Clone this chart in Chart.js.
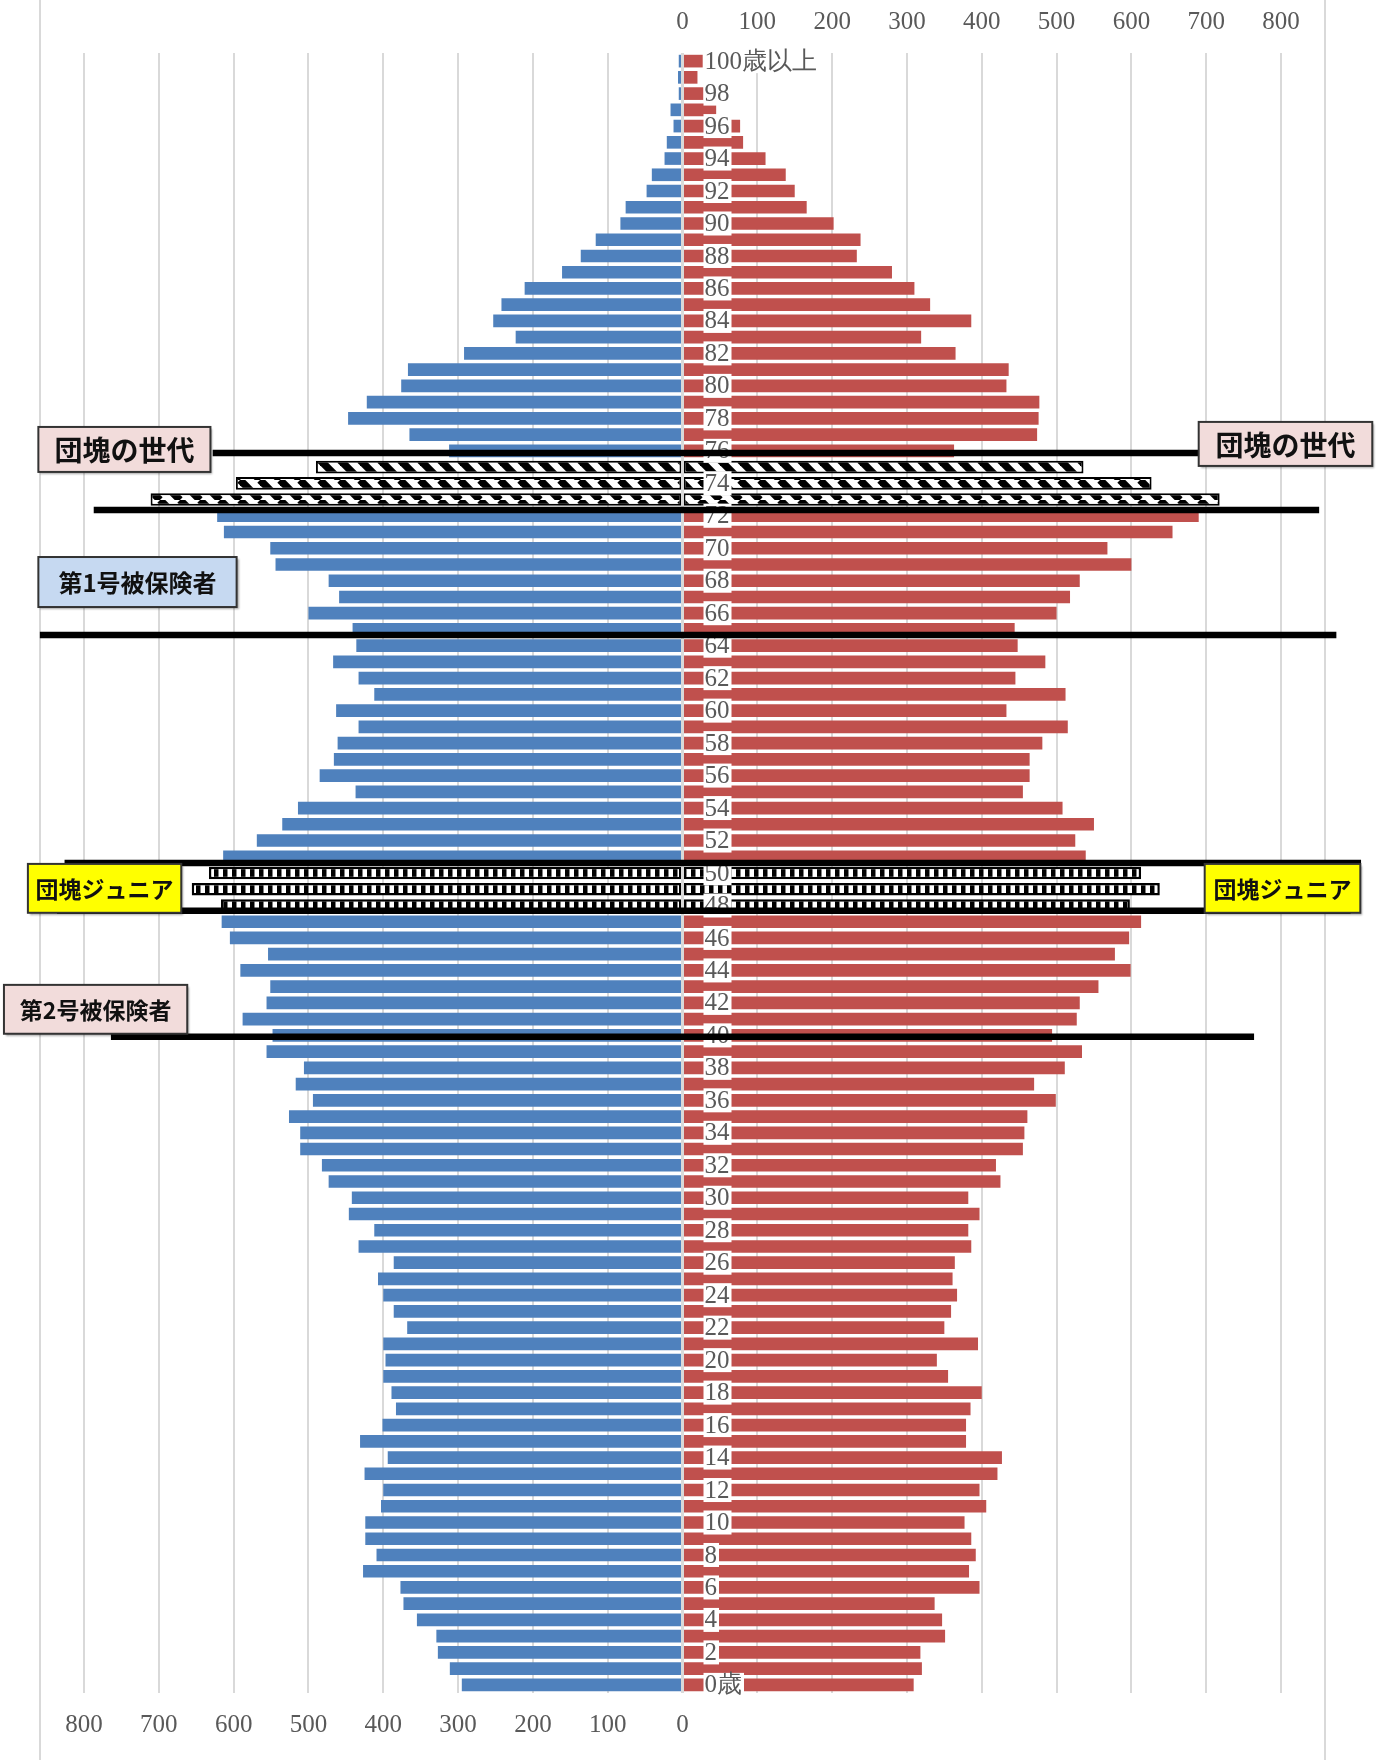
<!DOCTYPE html>
<html lang="ja">
<head>
<meta charset="utf-8">
<title>人口ピラミッド</title>
<script src="https://cdn.jsdelivr.net/npm/chart.js@4.4.0/dist/chart.umd.min.js"></script>
<style>
    html, body { margin: 0; padding: 0; background: #fff; }
    #wrap { width: 1380px; height: 1760px; }
</style>
</head>
<body>
<div id="wrap"><canvas id="pyramid" width="1380" height="1760"></canvas></div>
<script>
// ages 0 .. 100 (100 = 100歳以上)
const ages = Array.from({length: 101}, (_, i) => i);

const male = [
    295, 311, 327, 329, 355, 373, 377, 427, 409, 424,   // 0-9
    424, 403, 400, 425, 394, 431, 401, 383, 389, 400,   // 10-19
    397, 400, 368, 386, 400, 407, 386, 433, 412, 446,   // 20-29
    442, 473, 482, 511, 511, 526, 494, 517, 506, 556,   // 30-39
    548, 588, 556, 551, 591, 554, 605, 616, 617, 656,   // 40-49
    633, 614, 569, 535, 514, 437, 485, 466, 461, 433,   // 50-59
    463, 412, 433, 467, 436, 441, 500, 459, 473, 544,   // 60-69
    551, 613, 622, 711, 597, 490, 312, 365, 447, 422,   // 70-79
    376, 367, 292, 223, 253, 242, 211, 161, 136, 116,   // 80-89
    83, 76, 48, 41, 24, 21, 12, 16, 5, 6,               // 90-99
    5                                                   // 100+
];

const female = [
    309, 320, 318, 351, 347, 337, 397, 383, 392, 386,   // 0-9
    377, 406, 397, 421, 427, 379, 379, 385, 400, 355,   // 10-19
    340, 395, 350, 359, 367, 361, 364, 386, 382, 397,   // 20-29
    382, 425, 419, 455, 457, 461, 499, 470, 511, 534,   // 30-39
    494, 527, 531, 556, 599, 578, 597, 613, 598, 638,   // 40-49
    613, 539, 525, 550, 508, 455, 464, 464, 481, 515,   // 50-59
    433, 512, 445, 485, 448, 444, 500, 518, 531, 600,   // 60-69
    568, 655, 690, 718, 627, 536, 363, 474, 476, 477,   // 70-79
    433, 436, 365, 319, 386, 331, 310, 280, 233, 238,   // 80-89
    202, 166, 150, 138, 111, 81, 77, 45, 28, 20,        // 90-99
    27                                                  // 100+
];

const dankaiAges = [73, 74, 75];   // 団塊の世代
const juniorAges = [48, 49, 50];   // 団塊ジュニア

const axisMax = 800;
const axisStep = 100;

// annotation lines: age position and extent in axis units
const guideLines = [
    {age: 75.87, from: -628, to: 692},
    {age: 72.36, from: -787, to: 851},
    {age: 64.66, from: -859, to: 874},
    {age: 50.62, from: -826, to: 907},
    {age: 47.67, from: -836, to: 893},
    {age: 39.91, from: -764, to: 764}
];

// annotation boxes: x in axis units, y as age range
const noteBoxes = [
    {text: '団塊の世代', x1: -861, x2: -631, top: 77.47, bottom: 74.70, fill: '#f2dcdb', size: 28},
    {text: '団塊の世代', x1: 690, x2: 922, top: 77.78, bottom: 75.07, fill: '#f2dcdb', size: 28},
    {text: '第1号被保険者', x1: -861, x2: -596, top: 69.46, bottom: 66.38, fill: '#c6d9f1', size: 24},
    {text: '団塊ジュニア', x1: -875, x2: -670, top: 50.56, bottom: 47.55, fill: '#ffff00', size: 23},
    {text: '団塊ジュニア', x1: 698, x2: 906, top: 50.56, bottom: 47.55, fill: '#ffff00', size: 23},
    {text: '第2号被保険者', x1: -907, x2: -662, top: 43.11, bottom: 40.10, fill: '#f2dcdb', size: 23}
];

const BLUE = '#4f81bd';
const RED = '#c0504d';
const GRID = '#d9d9d9';
const TEXT_GRAY = '#595959';
const SERIF = "'Liberation Serif', 'DejaVu Serif', serif";
const GOTHIC = "'Noto Sans CJK JP', 'Noto Sans', sans-serif";

// rows drawn top to bottom: 100歳以上 ... 0歳
const rowAges = ages.slice().reverse();
const rowLabels = rowAges.map(a => a === 100 ? '100歳以上' : (a === 0 ? '0歳' : String(a)));

function makeDiagonalPattern() {
    const c = document.createElement('canvas');
    c.width = 20;
    c.height = 20;
    const g = c.getContext('2d');
    g.fillStyle = '#fff';
    g.fillRect(0, 0, 20, 20);
    g.strokeStyle = '#000';
    g.lineWidth = 7.5;
    for (const dx of [-20, 0, 20]) {
        g.beginPath();
        g.moveTo(dx, 0);
        g.lineTo(dx + 20, 20);
        g.stroke();
    }
    return g.createPattern(c, 'repeat');
}

function makeStripePattern() {
    const c = document.createElement('canvas');
    c.width = 9;
    c.height = 40;
    const g = c.getContext('2d');
    g.fillStyle = '#000';
    g.fillRect(0, 0, 9, 40);
    g.fillStyle = '#fff';
    g.fillRect(2.5, 0, 4.5, 40);
    return g.createPattern(c, 'repeat');
}

const diagonal = makeDiagonalPattern();
const stripes = makeStripePattern();

function styleFor(baseColor) {
    return {
        bg: rowAges.map(a => dankaiAges.includes(a) ? diagonal : (juniorAges.includes(a) ? stripes : baseColor)),
        border: rowAges.map(a => (dankaiAges.includes(a) || juniorAges.includes(a)) ? '#000' : baseColor),
        width: rowAges.map(a => dankaiAges.includes(a) ? 2 : (juniorAges.includes(a) ? 2.5 : 0))
    };
}
const maleStyle = styleFor(BLUE);
const femaleStyle = styleFor(RED);

const overlayPlugin = {
    id: 'overlay',
    beforeDraw(chart) {
        // outer frame lines
        const ctx = chart.ctx;
        ctx.save();
        ctx.strokeStyle = GRID;
        ctx.lineWidth = 2;
        for (const x of [40, 1325]) {
            ctx.beginPath();
            ctx.moveTo(x, 0);
            ctx.lineTo(x, chart.height);
            ctx.stroke();
        }
        ctx.restore();
    },
    afterDatasetsDraw(chart) {
        const ctx = chart.ctx;
        const xs = chart.scales.x;
        const ys = chart.scales.y;
        const area = chart.chartArea;
        const ageY = a => ys.getPixelForValue(rowAges.length - 1 - a);
        const x0 = xs.getPixelForValue(0);

        ctx.save();
        // zero line
        ctx.strokeStyle = GRID;
        ctx.lineWidth = 3;
        ctx.beginPath();
        ctx.moveTo(x0, area.top);
        ctx.lineTo(x0, area.bottom);
        ctx.stroke();

        // age labels with white backdrop
        ctx.font = '25px ' + SERIF;
        ctx.textBaseline = 'middle';
        ctx.textAlign = 'left';
        const lx = x0 + 22;
        rowAges.forEach((a, i) => {
            if (a % 2 !== 0) return;
            const y = ageY(a);
            const w = ctx.measureText(rowLabels[i]).width;
            ctx.fillStyle = '#fff';
            ctx.fillRect(lx - 1, y - 12, w + 3, 24);
            ctx.fillStyle = TEXT_GRAY;
            ctx.fillText(rowLabels[i], lx, y + 1);
        });

        // guide lines
        ctx.strokeStyle = '#000';
        ctx.lineWidth = 6.5;
        for (const l of guideLines) {
            const y = ageY(l.age);
            ctx.beginPath();
            ctx.moveTo(xs.getPixelForValue(l.from), y);
            ctx.lineTo(xs.getPixelForValue(l.to), y);
            ctx.stroke();
        }

        // note boxes
        for (const b of noteBoxes) {
            const x1 = xs.getPixelForValue(b.x1);
            const x2 = xs.getPixelForValue(b.x2);
            const y1 = ageY(b.top);
            const y2 = ageY(b.bottom);
            ctx.save();
            ctx.shadowColor = 'rgba(0,0,0,0.35)';
            ctx.shadowOffsetX = 2;
            ctx.shadowOffsetY = 2;
            ctx.shadowBlur = 2;
            ctx.fillStyle = b.fill;
            ctx.fillRect(x1, y1, x2 - x1, y2 - y1);
            ctx.restore();
            ctx.strokeStyle = '#333';
            ctx.lineWidth = 2;
            ctx.strokeRect(x1, y1, x2 - x1, y2 - y1);
            ctx.fillStyle = '#111';
            ctx.font = 'bold ' + b.size + 'px ' + GOTHIC;
            ctx.textAlign = 'center';
            ctx.textBaseline = 'middle';
            ctx.fillText(b.text, (x1 + x2) / 2, (y1 + y2) / 2 + 1);
        }
        ctx.restore();
    }
};

new Chart(document.getElementById('pyramid'), {
    type: 'bar',
    data: {
        labels: rowLabels,
        datasets: [
            {
                label: '男',
                data: rowAges.map(a => -male[a]),
                backgroundColor: maleStyle.bg,
                borderColor: maleStyle.border,
                borderWidth: maleStyle.width,
                borderSkipped: false
            },
            {
                label: '女',
                data: rowAges.map(a => female[a]),
                backgroundColor: femaleStyle.bg,
                borderColor: femaleStyle.border,
                borderWidth: femaleStyle.width,
                borderSkipped: false
            }
        ]
    },
    options: {
        indexAxis: 'y',
        responsive: false,
        devicePixelRatio: 1,
        animation: false,
        grouped: false,
        barPercentage: 0.78,
        categoryPercentage: 1,
        layout: {padding: {left: 84, right: 99, top: 0, bottom: 0}},
        plugins: {
            legend: {display: false},
            tooltip: {enabled: false}
        },
        scales: {
            x: {
                position: 'bottom',
                min: -axisMax,
                max: axisMax,
                afterFit: scale => { scale.height = 67; },
                ticks: {
                    stepSize: axisStep,
                    autoSkip: false,
                    maxRotation: 0,
                    padding: 17,
                    color: TEXT_GRAY,
                    font: {family: SERIF, size: 25},
                    callback: v => v <= 0 ? String(Math.abs(v)) : ''
                },
                grid: {color: GRID, lineWidth: 2, drawTicks: false},
                border: {display: false}
            },
            x2: {
                position: 'top',
                min: -axisMax,
                max: axisMax,
                afterFit: scale => { scale.height = 53; },
                ticks: {
                    stepSize: axisStep,
                    autoSkip: false,
                    maxRotation: 0,
                    padding: 16,
                    color: TEXT_GRAY,
                    font: {family: SERIF, size: 25},
                    callback: v => v >= 0 ? String(v) : ''
                },
                grid: {display: false, drawTicks: false},
                border: {display: false}
            },
            y: {
                display: false
            }
        }
    },
    plugins: [overlayPlugin]
});
</script>
</body>
</html>
